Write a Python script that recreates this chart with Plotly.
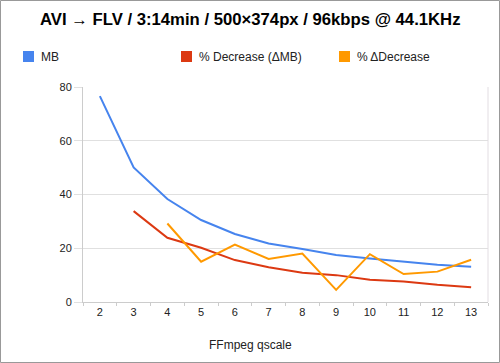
import plotly.graph_objects as go

categories = ["2", "3", "4", "5", "6", "7", "8", "9", "10", "11", "12", "13"]
mb = [76.6, 50.1, 38.3, 30.5, 25.3, 21.8, 19.7, 17.5, 16.2, 15.0, 13.9, 13.1]
pct_decrease = [None, 33.8, 23.9, 20.2, 15.6, 12.9, 10.9, 10.0, 8.3, 7.6, 6.4, 5.5]
pct_delta_decrease = [None, None, 29.2, 15.0, 21.4, 16.0, 18.0, 4.5, 17.8, 10.4, 11.3, 15.7]

series_names = ["MB", "% Decrease (ΔMB)", "% ΔDecrease"]
colors = ["#4684ee", "#dc3912", "#ff9900"]
title_text = "AVI → FLV / 3:14min / 500×374px / 96kbps @ 44.1KHz"
x_title = "FFmpeg qscale"

W, H = 500, 363
L, R, T, B = 83, 12, 87, 61
PW, PH = W - L - R, H - T - B


def px(x):
    return (x - L) / PW


def py(y):
    return (H - B - y) / PH


fig = go.Figure()
for name, vals, c in zip(series_names, [mb, pct_decrease, pct_delta_decrease], colors):
    fig.add_trace(go.Scatter(x=categories, y=vals, mode="lines", name=name,
                             line=dict(color=c, width=2), showlegend=False,
                             hoverinfo="skip"))

shapes = []
annotations = []
# legend
leg_x = [23, 181, 339]
for lx, name, c in zip(leg_x, series_names, colors):
    shapes.append(dict(type="rect", xref="paper", yref="paper",
                       x0=px(lx), x1=px(lx + 11), y0=py(62), y1=py(51),
                       fillcolor=c, line=dict(width=0)))
    annotations.append(dict(xref="paper", yref="paper", x=px(lx + 16), y=py(57),
                            text=name, showarrow=False, xanchor="left", yanchor="middle",
                            font=dict(size=12, color="#222222")))
# title
annotations.append(dict(xref="paper", yref="paper", x=px(250.5), y=py(20),
                        text="<b>" + title_text + "</b>", showarrow=False,
                        xanchor="center", yanchor="middle",
                        font=dict(size=16.7, color="#000000")))
# x axis title
annotations.append(dict(xref="paper", yref="paper", x=px(250), y=py(345),
                        text=x_title, showarrow=False, xanchor="center", yanchor="middle",
                        font=dict(size=12, color="#222222")))
# right border of plot area
shapes.append(dict(type="line", xref="paper", yref="paper", x0=1, x1=1, y0=0, y1=1,
                   line=dict(color="#e2dde2", width=1)))
# outer border
shapes.append(dict(type="rect", xref="paper", yref="paper",
                   x0=px(0.5), x1=px(W - 0.5), y0=py(H - 0.5), y1=py(0.5),
                   line=dict(color="#999999", width=1), layer="below"))

fig.update_layout(
    width=W, height=H,
    margin=dict(l=L, r=R, t=T, b=B, pad=0),
    paper_bgcolor="white", plot_bgcolor="white",
    font=dict(family="Liberation Sans, Arial, sans-serif", size=11, color="#222222"),
    shapes=shapes, annotations=annotations,
    hovermode=False,
    xaxis=dict(type="category", tickson="boundaries", ticks="outside", ticklen=3,
               tickcolor="#cccccc", showgrid=False, showline=True, linecolor="#cccccc",
               linewidth=1, range=[-0.5, 11.5], tickfont=dict(size=11, color="#222222"),
               zeroline=False),
    yaxis=dict(range=[0, 80], dtick=20, showgrid=True, gridcolor="#e0e0e0", gridwidth=1,
               ticks="outside", ticklen=8, tickcolor="#e0e0e0", showline=True,
               linecolor="#cccccc", linewidth=1, zeroline=False,
               tickfont=dict(size=11, color="#222222")),
)

fig.write_html("out.html", config={"displayModeBar": False},
               post_script="document.body.style.margin='0';document.body.style.overflow='hidden';")
